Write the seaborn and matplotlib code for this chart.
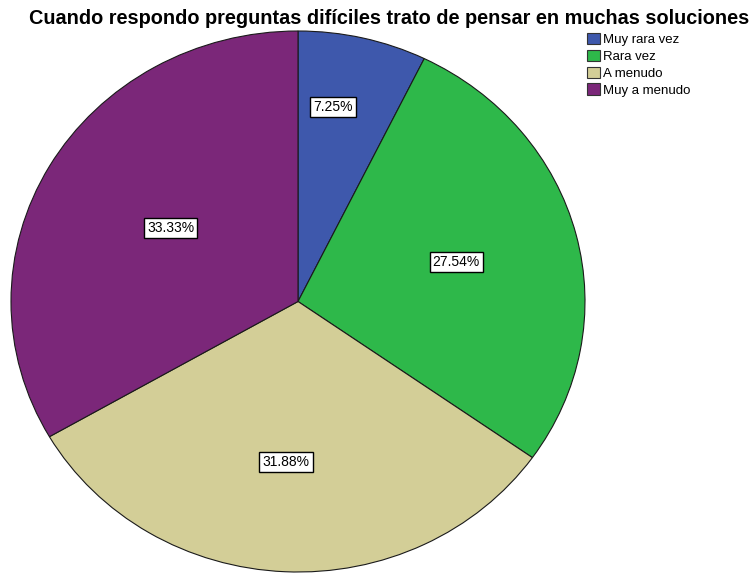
import matplotlib
matplotlib.use("Agg")
import numpy as np
import matplotlib.pyplot as plt
import matplotlib.patches as mpatches
import seaborn as sns

# Datos del gráfico
categorias = ["Muy rara vez", "Rara vez", "A menudo", "Muy a menudo"]
porcentajes = [7.25, 27.54, 31.88, 33.33]
colores = ["#3E58AC", "#2EB84A", "#D3CE97", "#7B2779"]
titulo = "Cuando respondo preguntas difíciles trato de pensar en muchas soluciones"

sns.set_theme(style="white")
plt.rcParams['font.family'] = ['Liberation Sans', 'DejaVu Sans']

fig = plt.figure(figsize=(7.52, 5.73), dpi=100)
# Área del pastel (ligeramente elíptico, como el original)
ax = fig.add_axes([11/752, 1/573, 574/752, 541/573])

wedges, _ = ax.pie(
    porcentajes, colors=colores, startangle=90, counterclock=False,
    wedgeprops=dict(edgecolor='#1a1a1a', linewidth=0.8))

# Etiquetas de porcentaje: distancia radial y pequeño giro por cuña (como en SPSS)
dist_etiq = [0.73, 0.57, 0.595, 0.52]
giro_etiq = [3.5, 0.4, -1.4, -1.4]
for w, p, d, g in zip(wedges, porcentajes, dist_etiq, giro_etiq):
    ang = np.deg2rad((w.theta1 + w.theta2) / 2 + g)
    ax.text(d * np.cos(ang), d * np.sin(ang), f'{p:.2f}%', ha='center', va='center',
            fontsize=10, color='black',
            bbox=dict(facecolor='white', edgecolor='black', boxstyle='square,pad=0.22', linewidth=1))

ax.set_aspect('auto')
ax.set_xlim(-1, 1)
ax.set_ylim(-1, 1)
ax.axis('off')

fig.suptitle(titulo, x=0.518, y=0.985, fontsize=14.3, fontweight='bold', va='top', color='black')

handles = [mpatches.Patch(facecolor=c, edgecolor='#333333', linewidth=0.8, label=l)
           for c, l in zip(colores, categorias)]
leg = fig.legend(handles=handles, loc='upper left', bbox_to_anchor=(587/752, 1 - 33/573),
                 frameon=False, fontsize=9.5, handlelength=0.95, handleheight=0.95,
                 handletextpad=0.3, labelspacing=0.27, borderaxespad=0, borderpad=0)
for t in leg.get_texts():
    t.set_color('black')

fig.savefig("out.png", dpi=100, facecolor='white')
